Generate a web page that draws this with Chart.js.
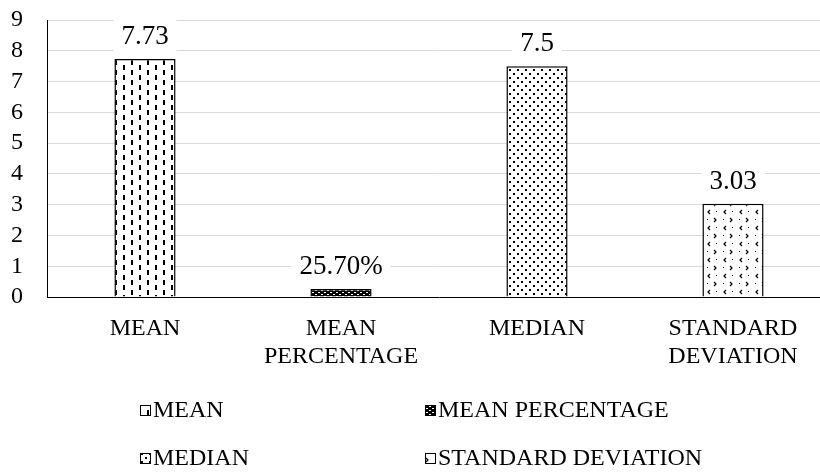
<!DOCTYPE html>
<html>
<head>
<meta charset="utf-8">
<script src="https://cdn.jsdelivr.net/npm/chart.js@4.4.0/dist/chart.umd.min.js"></script>
<style>
  html, body { margin: 0; padding: 0; background: #fff; overflow: hidden; }
  #wrap { width: 820px; height: 472px; overflow: hidden; }
</style>
</head>
<body>
<div id="wrap"><canvas id="c" width="831" height="472"></canvas></div>
<script>
// Categories (multi-line axis labels), series names and values
const categories = [['MEAN'], ['MEAN', 'PERCENTAGE'], ['MEDIAN'], ['STANDARD', 'DEVIATION']];
const seriesNames = ['MEAN', 'MEAN PERCENTAGE', 'MEDIAN', 'STANDARD DEVIATION'];
const seriesValues = [7.73, 0.257, 7.5, 3.03];
const percentSeries = [false, true, false, false];
const yTickValues = [0, 1, 2, 3, 4, 5, 6, 7, 8, 9];

const FONT = "'Liberation Serif', 'Times New Roman', serif";

function formatValue(i) {
  const v = seriesValues[i];
  return percentSeries[i] ? (v * 100).toFixed(2) + '%' : String(v);
}

// Fill patterns for the bars
function makePattern(w, h, draw) {
  const c = document.createElement('canvas');
  c.width = w; c.height = h;
  const g = c.getContext('2d');
  g.fillStyle = '#fff';
  g.fillRect(0, 0, w, h);
  draw(g);
  return document.getElementById('c').getContext('2d').createPattern(c, 'repeat');
}

const patDashedVert = makePattern(16, 10, g => {
  g.fillStyle = '#000';
  g.fillRect(3, 0, 2, 5);
  g.fillRect(11, 5, 2, 5);
});
const patDense = makePattern(6, 4, g => {
  g.fillStyle = '#000';
  g.fillRect(0, 0, 6, 4);
  g.fillStyle = '#fff';
  g.fillRect(0, 0, 2, 1);
  g.fillRect(3, 2, 2, 1);
});
const patDots = makePattern(8, 8, g => {
  g.fillStyle = '#000';
  g.fillRect(1, 1, 2, 2);
  g.fillRect(5, 5, 2, 2);
});
const patDivot = makePattern(16, 16, g => {
  g.strokeStyle = '#000';
  g.lineWidth = 1.2;
  g.beginPath();
  g.moveTo(6, 2); g.lineTo(4, 4); g.lineTo(6, 6);
  g.moveTo(10, 10); g.lineTo(12, 12); g.lineTo(10, 14);
  g.stroke();
  g.fillStyle = '#000';
  g.fillRect(12, 3, 1, 1);
  g.fillRect(3, 11, 1, 1);
});
const seriesPatterns = [patDashedVert, patDense, patDots, patDivot];

const datasets = seriesNames.map((name, i) => ({
  label: name,
  data: categories.map((_, j) => (j === i ? seriesValues[i] : null)),
  backgroundColor: seriesPatterns[i],
  borderColor: '#000',
  borderWidth: 1.5,
  borderSkipped: 'bottom',
  categoryPercentage: 1,
  barPercentage: 0.312
}));

// Value labels on a white box above each bar
const valueLabelPlugin = {
  id: 'valueLabels',
  afterDatasetsDraw(chart) {
    const ctx = chart.ctx;
    ctx.save();
    ctx.font = '27px ' + FONT;
    ctx.textAlign = 'center';
    ctx.textBaseline = 'middle';
    seriesNames.forEach((_, i) => {
      const el = chart.getDatasetMeta(i).data[i];
      if (!el) return;
      const txt = formatValue(i);
      const x = el.x, y = el.y - 23;
      const w = ctx.measureText(txt).width + 16;
      const h = 34;
      ctx.fillStyle = '#fff';
      ctx.fillRect(x - w / 2, y - h / 2, w, h);
      ctx.fillStyle = '#000';
      ctx.fillText(txt, x, y + 1);
    });
    ctx.restore();
  }
};

// Two-column legend under the axis
const gridLegendPlugin = {
  id: 'gridLegend',
  afterDraw(chart) {
    const ctx = chart.ctx;
    const colX = [140, 425];
    const rowY = [chart.chartArea.bottom + 113, chart.chartArea.bottom + 161];
    ctx.save();
    ctx.font = '24px ' + FONT;
    ctx.textAlign = 'left';
    ctx.textBaseline = 'middle';
    chart.data.datasets.forEach((ds, i) => {
      const x = colX[i % 2], y = rowY[Math.floor(i / 2)];
      ctx.fillStyle = ds.backgroundColor;
      ctx.fillRect(x, y - 5, 11, 11);
      ctx.strokeStyle = '#000';
      ctx.lineWidth = 1;
      ctx.strokeRect(x + 0.5, y - 4.5, 10, 10);
      ctx.fillStyle = '#000';
      ctx.fillText(ds.label, x + 13, y + 1);
    });
    ctx.restore();
  }
};

new Chart(document.getElementById('c'), {
  type: 'bar',
  data: { labels: categories, datasets },
  options: {
    responsive: false,
    animation: false,
    datasets: { bar: { grouped: false, skipNull: true } },
    layout: { padding: { left: 0, right: 0, top: 20, bottom: 90 } },
    scales: {
      x: {
        grid: { display: false, drawTicks: false },
        border: { color: '#000', width: 1 },
        ticks: { color: '#000', font: { family: FONT, size: 24, lineHeight: 1.17 }, padding: 18, maxRotation: 0, autoSkip: false },
        afterFit(s) { s.height = 85; s.paddingLeft = 0; s.paddingRight = 0; }
      },
      y: {
        min: 0,
        max: 9,
        afterBuildTicks(s) { s.ticks = yTickValues.map(v => ({ value: v })); },
        grid: { color: '#d9d9d9', drawTicks: false, lineWidth: 1 },
        border: { color: '#000', width: 1 },
        ticks: { color: '#000', font: { family: FONT, size: 24 }, padding: 24, autoSkip: false },
        afterFit(s) { s.width = 47; s.paddingTop = 0; s.paddingBottom = 0; }
      }
    },
    plugins: { legend: { display: false }, tooltip: { enabled: false } }
  },
  plugins: [valueLabelPlugin, gridLegendPlugin]
});
</script>
</body>
</html>
